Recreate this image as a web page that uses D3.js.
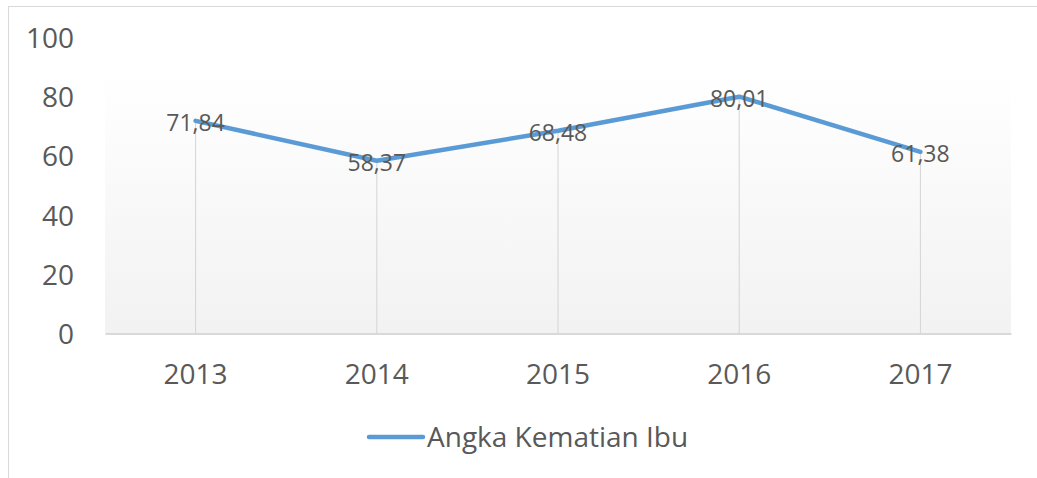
<!DOCTYPE html>
<html>
<head>
<meta charset="utf-8">
<script src="https://cdn.jsdelivr.net/npm/d3@7/dist/d3.min.js"></script>
<style>
  html, body { margin: 0; padding: 0; background: #fff; }
  svg { display: block; }
  text { font-family: "Open Sans", sans-serif; fill: #595959; }
</style>
</head>
<body>
<svg id="chart" width="1037" height="478"></svg>
<script>
const categories = ["2013", "2014", "2015", "2016", "2017"];
const values = [71.84, 58.37, 68.48, 80.01, 61.38];
const valueLabels = ["71,84", "58,37", "68,48", "80,01", "61,38"];
const yTicks = [0, 20, 40, 60, 80, 100];
const seriesName = "Angka Kematian Ibu";

const svg = d3.select("#chart");
const W = 1037, H = 478;
const plot = { left: 105, right: 1011, top: 37.5, bottom: 333.5, fillTop: 73 };

const x = d3.scaleBand().domain(categories).range([plot.left, plot.right]).paddingInner(0).paddingOuter(0);
const y = d3.scaleLinear().domain([0, 100]).range([plot.bottom, plot.top]);
const cx = d => x(d) + x.bandwidth() / 2;

// outer chart border (cropped at right/bottom)
svg.append("rect")
  .attr("x", 8.5).attr("y", 6.5)
  .attr("width", W + 20).attr("height", H + 20)
  .attr("fill", "none").attr("stroke", "#d9d9d9").attr("stroke-width", 1);

// gradient plot area
const defs = svg.append("defs");
const grad = defs.append("linearGradient").attr("id", "pa").attr("x1", 0).attr("y1", 0).attr("x2", 0).attr("y2", 1);
grad.append("stop").attr("offset", "0%").attr("stop-color", "#ffffff");
grad.append("stop").attr("offset", "100%").attr("stop-color", "#f2f2f2");
svg.append("rect")
  .attr("x", plot.left).attr("y", plot.fillTop)
  .attr("width", plot.right - plot.left).attr("height", y(0) - plot.fillTop)
  .attr("fill", "url(#pa)");

// drop lines
svg.append("g").selectAll("line").data(categories).join("line")
  .attr("x1", d => cx(d)).attr("x2", d => cx(d))
  .attr("y1", (d, i) => y(values[i])).attr("y2", y(0))
  .attr("stroke", "#d4d4d4").attr("stroke-width", 1);

// x axis line
const xAxis = d3.axisBottom(x).tickSize(0).tickPadding(0);
const gx = svg.append("g").attr("transform", `translate(0,${y(0)})`).call(xAxis);
gx.select(".domain").attr("stroke", "#d9d9d9").attr("stroke-width", 2);
gx.selectAll("text")
  .attr("dy", null).attr("y", 50)
  .style("font-size", "28px").style("fill", "#595959");

// y axis labels
const yAxis = d3.axisLeft(y).tickValues(yTicks).tickSize(0).tickPadding(0);
const gy = svg.append("g").attr("transform", `translate(74,0)`).call(yAxis);
gy.select(".domain").remove();
gy.selectAll("text")
  .attr("dy", "10px").attr("x", 0)
  .style("font-size", "28px").style("fill", "#595959");
gy.attr("font-family", null).attr("font-size", null);
gx.attr("font-family", null).attr("font-size", null);

// line
const line = d3.line().x((d, i) => cx(categories[i])).y(d => y(d));
svg.append("path").datum(values)
  .attr("d", line)
  .attr("fill", "none").attr("stroke", "#5b9bd5")
  .attr("stroke-width", 4.5).attr("stroke-linejoin", "round").attr("stroke-linecap", "round");

// data labels
svg.append("g").selectAll("text").data(values).join("text")
  .attr("x", (d, i) => cx(categories[i]))
  .attr("y", d => y(d) + 10)
  .attr("text-anchor", "middle")
  .style("font-size", "23px")
  .text((d, i) => valueLabels[i]);

// legend
const lg = svg.append("g");
lg.append("line").attr("x1", 369).attr("x2", 423).attr("y1", 437).attr("y2", 437)
  .attr("stroke", "#5b9bd5").attr("stroke-width", 4.5).attr("stroke-linecap", "round");
lg.append("text").attr("x", 427).attr("y", 447).style("font-size", "28px").text(seriesName);
</script>
</body>
</html>
